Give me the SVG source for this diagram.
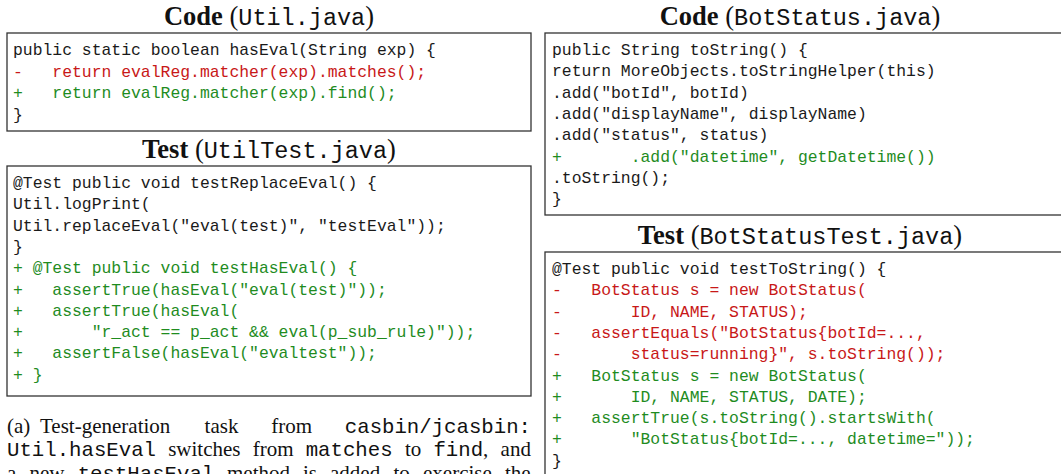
<svg xmlns="http://www.w3.org/2000/svg" width="1061" height="474" viewBox="0 0 1061 474" xml:space="preserve">
<style>
.bg{fill:#ffffff}
.box{fill:#ffffff;stroke:#333333;stroke-width:1.3}
.title{font-family:"Liberation Serif","Times New Roman",serif;font-size:26.5px;fill:#111111}
.title .b{font-weight:bold}
.title .m{font-family:"Liberation Mono","Courier New",monospace;font-size:23.5px}
.code{font-family:"Liberation Mono","Courier New",monospace;font-size:16.4px;fill:#1a1a1a;white-space:pre}
.del{fill:#c81818}
.add{fill:#1f8c1f}
.cap{font-family:"Liberation Serif","Times New Roman",serif;font-size:21px;fill:#111111;white-space:pre}
.cm{font-family:"Liberation Mono","Courier New",monospace;font-size:20.7px}
</style>
<rect class="bg" x="0" y="0" width="1061" height="474"/>

<g id="code-util">
<text class="title" x="269" y="25" text-anchor="middle"><tspan class="b">Code</tspan> (<tspan class="m">Util.java</tspan>)</text>
<rect class="box" x="7" y="33" width="524" height="98"/>
<text class="code" x="13" y="55">public static boolean hasEval(String exp) {</text>
<text class="code del" x="13" y="76.5">-   return evalReg.matcher(exp).matches();</text>
<text class="code add" x="13" y="98">+   return evalReg.matcher(exp).find();</text>
<text class="code" x="13" y="119.5">}</text>
</g>

<g id="test-util">
<text class="title" x="269" y="158" text-anchor="middle"><tspan class="b">Test</tspan> (<tspan class="m">UtilTest.java</tspan>)</text>
<rect class="box" x="7" y="166" width="524" height="230"/>
<text class="code" x="13" y="188">@Test public void testReplaceEval() {</text>
<text class="code" x="13" y="209.3">Util.logPrint(</text>
<text class="code" x="13" y="230.6">Util.replaceEval("eval(test)", "testEval"));</text>
<text class="code" x="13" y="251.9">}</text>
<text class="code add" x="13" y="273.2">+ @Test public void testHasEval() {</text>
<text class="code add" x="13" y="294.5">+   assertTrue(hasEval("eval(test)"));</text>
<text class="code add" x="13" y="315.8">+   assertTrue(hasEval(</text>
<text class="code add" x="13" y="337.1">+       "r_act == p_act &amp;&amp; eval(p_sub_rule)"));</text>
<text class="code add" x="13" y="358.4">+   assertFalse(hasEval("evaltest"));</text>
<text class="code add" x="13" y="379.7">+ }</text>
</g>

<g id="caption">
<text class="cap" y="433"><tspan x="7">(a)</tspan><tspan x="40">Test-generation</tspan><tspan x="204.6">task</tspan><tspan x="271.2">from</tspan><tspan class="cm" x="344.8">casbin/jcasbin:</tspan></text>
<text class="cap" y="456"><tspan class="cm" x="7">Util.hasEval</tspan><tspan x="168.2">switches</tspan><tspan x="252.7">from</tspan><tspan class="cm" x="305.7">matches</tspan><tspan x="404.9">to</tspan><tspan class="cm" x="433.4">find</tspan><tspan>,</tspan><tspan x="500.6">and</tspan></text>
<text class="cap" y="480"><tspan x="7">a</tspan><tspan x="29.5">new</tspan><tspan class="cm" x="77.7">testHasEval</tspan><tspan x="227">method</tspan><tspan x="303">is</tspan><tspan x="330">added</tspan><tspan x="393.5">to</tspan><tspan x="423">exercise</tspan><tspan x="505">the</tspan></text>
</g>

<g id="code-botstatus">
<text class="title" x="800" y="25" text-anchor="middle"><tspan class="b">Code</tspan> (<tspan class="m">BotStatus.java</tspan>)</text>
<rect class="box" x="545" y="33" width="530" height="182"/>
<text class="code" x="552" y="55">public String toString() {</text>
<text class="code" x="552" y="76.3">return MoreObjects.toStringHelper(this)</text>
<text class="code" x="552" y="97.6">.add("botId", botId)</text>
<text class="code" x="552" y="118.9">.add("displayName", displayName)</text>
<text class="code" x="552" y="140.2">.add("status", status)</text>
<text class="code add" x="552" y="161.5">+       .add("datetime", getDatetime())</text>
<text class="code" x="552" y="182.8">.toString();</text>
<text class="code" x="552" y="204.1">}</text>
</g>

<g id="test-botstatus">
<text class="title" x="800" y="244" text-anchor="middle"><tspan class="b">Test</tspan> (<tspan class="m">BotStatusTest.java</tspan>)</text>
<rect class="box" x="545" y="252" width="530" height="240"/>
<text class="code" x="552" y="274">@Test public void testToString() {</text>
<text class="code del" x="552" y="295.3">-   BotStatus s = new BotStatus(</text>
<text class="code del" x="552" y="316.6">-       ID, NAME, STATUS);</text>
<text class="code del" x="552" y="337.9">-   assertEquals("BotStatus{botId=...,</text>
<text class="code del" x="552" y="359.2">-       status=running}", s.toString());</text>
<text class="code add" x="552" y="380.5">+   BotStatus s = new BotStatus(</text>
<text class="code add" x="552" y="401.8">+       ID, NAME, STATUS, DATE);</text>
<text class="code add" x="552" y="423.1">+   assertTrue(s.toString().startsWith(</text>
<text class="code add" x="552" y="444.4">+       "BotStatus{botId=..., datetime="));</text>
<text class="code" x="552" y="465.7">}</text>
</g>
</svg>
